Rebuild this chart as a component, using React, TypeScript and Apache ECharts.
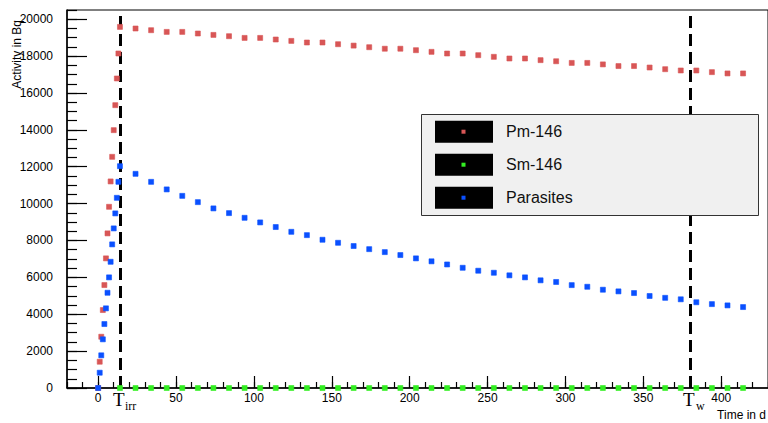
import React, { useEffect, useRef } from "react";
import * as echarts from "echarts";

// Time in days
const irrDays = [0, 1, 2, 3, 4, 5, 6, 7, 8, 9, 10, 11, 12, 13];
const decayDays = [
  14, 24, 34, 44, 54, 64, 74, 84, 94, 104, 114, 124, 134, 144, 154, 164, 174, 184, 194, 204,
  214, 224, 234, 244, 254, 264, 274, 284, 294, 304, 314, 324, 334, 344, 354, 364, 374, 384, 394, 404, 414,
];

// Activity in Bq
const pm146Irr = [0, 1425, 2780, 4228, 5583, 7030, 8385, 9827, 11203, 12537, 13984, 15339, 16786, 18141];
const pm146Decay = [
  19583, 19496, 19404, 19312, 19312, 19225, 19149, 19079, 18986, 18986, 18900, 18824, 18737, 18737, 18645,
  18569, 18482, 18400, 18400, 18320, 18230, 18140, 18140, 18050, 17960, 17870, 17870, 17780, 17720, 17630,
  17630, 17550, 17460, 17460, 17380, 17290, 17220, 17220, 17130, 17060, 17060,
];
const sm146Decay = [
  0, 0, 0, 0, 0, 0, 0, 0, 0, 0, 0, 0, 0, 0, 0, 0, 0, 0, 0, 0, 0, 0, 0, 0, 0, 0, 0, 0, 0, 0, 0, 0, 0, 0, 0, 0, 0, 0, 0, 0, 0,
];
const parasitesIrr = [0, 829, 1772, 2640, 3469, 4320, 5165, 6000, 6845, 7789, 8656, 9469, 10314, 11181];
const parasitesDecay = [
  12030, 11615, 11180, 10770, 10420, 10080, 9740, 9485, 9230, 8980, 8730, 8470, 8290, 8040, 7875, 7700, 7530,
  7370, 7210, 7030, 6870, 6700, 6520, 6360, 6250, 6110, 6000, 5840, 5750, 5580, 5490, 5330, 5240, 5150, 4990,
  4890, 4810, 4650, 4550, 4480, 4390,
];

const seriesNames = ["Pm-146", "Sm-146", "Parasites"];
const seriesColors = ["#d85656", "#33ee22", "#0a50ff"];
const tIrr = 14;
const tW = 380;

const zip = (xs: number[], ys: number[]) => xs.map((x, i) => [x, ys[i]]);

const FONT = "'Liberation Sans', Arial, Helvetica, sans-serif";
const SERIF = "'Liberation Serif', 'Times New Roman', serif";

export default function App() {
  const ref = useRef<HTMLDivElement>(null);
  useEffect(() => {
    const chart = echarts.init(ref.current!, null, { renderer: "svg" });
    const markerSeries = (name: string, color: string, data: number[][], extra: any = {}) => ({
      name,
      type: "scatter",
      data,
      symbol: "rect",
      symbolSize: 5,
      itemStyle: { color, borderColor: color, borderWidth: 0.6, opacity: 1 },
      xAxisIndex: 0,
      yAxisIndex: 0,
      silent: true,
      ...extra,
    });

    const legendRows = seriesNames.map((n, i) => {
      const cy = 131.7 + i * 33;
      return [
        { type: "rect", shape: { x: 435, y: cy - 11, width: 58, height: 22 }, style: { fill: "#000" }, z: 101 },
        { type: "rect", shape: { x: 461.5, y: cy - 2, width: 4, height: 4 }, style: { fill: seriesColors[i] }, z: 102 },
        {
          type: "text",
          x: 506,
          y: cy,
          z: 102,
          style: {
            text: n,
            fill: "#111",
            fontSize: 16,
            fontFamily: FONT,
            textAlign: "left",
            align: "left",
            textVerticalAlign: "middle",
            verticalAlign: "middle",
          },
        },
      ];
    });

    const option: any = {
      animation: false,
      backgroundColor: "#fff",
      grid: {
        left: 67,
        top: 10,
        width: 702,
        height: 378,
        show: true,
        borderColor: "#000",
        borderWidth: 1,
        backgroundColor: "transparent",
      },
      xAxis: [
        {
          type: "value",
          min: -20,
          max: 430,
          splitNumber: 9,
          minInterval: 50,
          maxInterval: 50,
          axisLine: { show: true, onZero: false, lineStyle: { color: "#000", width: 1.5 } },
          axisTick: { show: true, inside: true, length: 12, lineStyle: { color: "#000", width: 1.2 } },
          axisLabel: {
            show: true,
            color: "#000",
            fontSize: 12,
            fontFamily: FONT,
            margin: 4,
            showMinLabel: false,
            showMaxLabel: false,
            formatter: (v: number) => (v >= 0 && v <= 400 && v % 50 === 0 ? String(v) : ""),
          },
          splitLine: { show: false },
        },
        {
          type: "value",
          min: -20,
          max: 430,
          interval: 10,
          position: "bottom",
          axisLine: { show: false, onZero: false },
          axisTick: { show: true, inside: true, length: 6, lineStyle: { color: "#000", width: 1.2 } },
          axisLabel: { show: false },
          splitLine: { show: false },
        },
      ],
      yAxis: [
        {
          type: "value",
          min: 0,
          max: 20500,
          interval: 2000,
          axisLine: { show: true, onZero: false, lineStyle: { color: "#000", width: 1.5 } },
          axisTick: { show: true, inside: true, length: 20, lineStyle: { color: "#000", width: 1.2 } },
          axisLabel: {
            show: true,
            color: "#000",
            fontSize: 12,
            fontFamily: FONT,
            margin: 14,
            showMaxLabel: false,
            formatter: (v: number) => (v <= 20000 ? String(v) : ""),
          },
          splitLine: { show: false },
        },
        {
          type: "value",
          min: 0,
          max: 20500,
          interval: 500,
          position: "left",
          axisLine: { show: false, onZero: false },
          axisTick: { show: true, inside: true, length: 10, lineStyle: { color: "#000", width: 1.2 } },
          axisLabel: { show: false },
          splitLine: { show: false },
        },
      ],
      series: [
        markerSeries(seriesNames[0], seriesColors[0], [...zip(irrDays, pm146Irr), ...zip(decayDays, pm146Decay)], {
          markLine: {
            silent: true,
            symbol: ["none", "none"],
            label: { show: false },
            lineStyle: { color: "#000", width: 3, type: [12, 6] },
            data: [{ xAxis: tIrr }, { xAxis: tW }],
            z: 1,
          },
        }),
        markerSeries(seriesNames[1], seriesColors[1], zip(decayDays, sm146Decay)),
        markerSeries(seriesNames[2], seriesColors[2], [...zip(irrDays, parasitesIrr), ...zip(decayDays, parasitesDecay)]),
      ],
      graphic: [
        {
          type: "text",
          x: 23,
          y: 20,
          rotation: Math.PI / 2,
          style: {
            text: "Activity in Bq",
            fill: "#000",
            fontSize: 12,
            fontFamily: FONT,
            textAlign: "right",
            align: "right",
            textVerticalAlign: "bottom",
            verticalAlign: "bottom",
          },
        },
        {
          type: "text",
          x: 766,
          y: 415,
          style: {
            text: "Time in d",
            fill: "#000",
            fontSize: 12,
            fontFamily: FONT,
            textAlign: "right",
            align: "right",
            textVerticalAlign: "middle",
            verticalAlign: "middle",
          },
        },
        {
          type: "text",
          x: 113,
          y: 399,
          style: { text: "T", fill: "#000", fontSize: 19, fontFamily: SERIF, textVerticalAlign: "middle", verticalAlign: "middle" },
        },
        {
          type: "text",
          x: 125,
          y: 406,
          style: { text: "irr", fill: "#000", fontSize: 12, fontFamily: SERIF, textVerticalAlign: "middle", verticalAlign: "middle" },
        },
        {
          type: "text",
          x: 683,
          y: 399,
          style: { text: "T", fill: "#000", fontSize: 19, fontFamily: SERIF, textVerticalAlign: "middle", verticalAlign: "middle" },
        },
        {
          type: "text",
          x: 696,
          y: 406,
          style: { text: "w", fill: "#000", fontSize: 12, fontFamily: SERIF, textVerticalAlign: "middle", verticalAlign: "middle" },
        },
        {
          type: "rect",
          shape: { x: 421.5, y: 114.5, width: 337, height: 101 },
          style: { fill: "#f0f0f0", stroke: "#333", lineWidth: 1 },
          z: 100,
        },
        ...legendRows.flat(),
      ],
    };
    chart.setOption(option);
    return () => chart.dispose();
  }, []);
  return <div ref={ref} style={{ position: "fixed", left: 0, top: 0, width: 768, height: 423 }} />;
}
